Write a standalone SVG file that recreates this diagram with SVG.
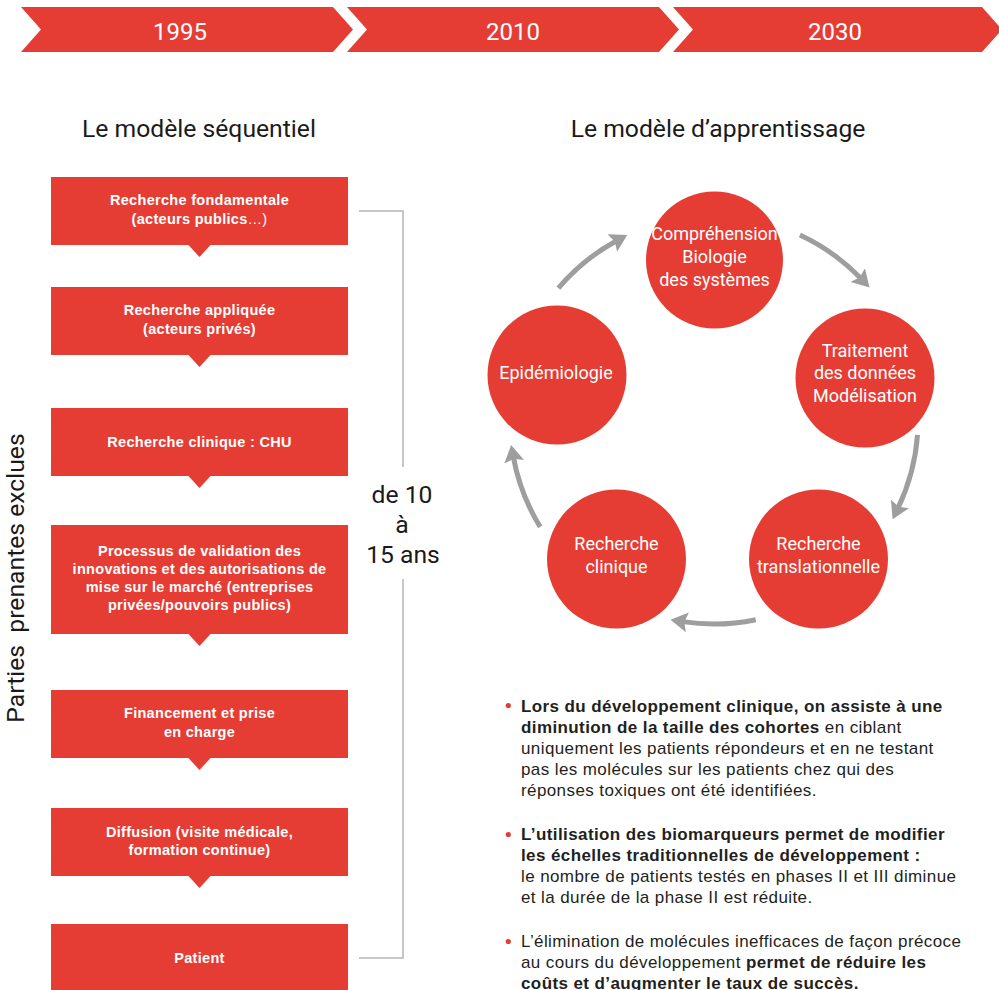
<svg xmlns="http://www.w3.org/2000/svg" width="999" height="990" viewBox="0 0 999 990">
<defs>
<style>
.red{fill:#e53d34}
.yr{font-family:Roboto,"Liberation Sans",sans-serif;font-size:24px;fill:#fff;text-anchor:middle}
.hd{font-family:Roboto,"Liberation Sans",sans-serif;font-size:24.7px;fill:#1a1a1a;text-anchor:middle}
.bx{font-family:"Liberation Sans",Arial,sans-serif;font-size:14.5px;letter-spacing:0.3px;font-weight:bold;fill:#fff;text-anchor:middle}
.ct{font-family:Roboto,"Liberation Sans",sans-serif;font-size:18px;fill:#fff;text-anchor:middle}
.bt{font-family:"Liberation Sans",Arial,sans-serif;font-size:17px;letter-spacing:0.4px;fill:#231f20}
.b{font-weight:bold}
.arc{fill:none;stroke:#9e9e9e;stroke-width:5;marker-end:url(#ah)}
.brk{fill:none;stroke:#b5b5b5;stroke-width:1.5}
</style>
<marker id="ah" markerUnits="userSpaceOnUse" markerWidth="20" markerHeight="22" viewBox="0 0 20 22" refX="5" refY="11" orient="auto">
<path d="M0,1 L17,11 L0,21 L3,11 z" fill="#9e9e9e"/>
</marker>
</defs>
<rect width="999" height="990" fill="#fff"/>

<g id="timeline">
<polygon class="red" points="21,7 333,7 353,29.5 333,52 21,52 41,29.5"/>
<polygon class="red" points="347,7 659,7 679,29.5 659,52 347,52 367,29.5"/>
<polygon class="red" points="673,7 982,7 1002,29.5 982,52 673,52 693,29.5"/>
<text class="yr" x="180" y="40">1995</text>
<text class="yr" x="513" y="40">2010</text>
<text class="yr" x="835" y="40">2030</text>
</g>

<text class="hd" x="199" y="137">Le modèle séquentiel</text>
<text class="hd" x="718" y="137">Le modèle d’apprentissage</text>

<text class="hd" transform="translate(24,578) rotate(-90)" x="0" y="0" font-size="26" xml:space="preserve">Parties  prenantes exclues</text>

<g id="box1">
<rect class="red" x="51" y="177" width="297" height="68"/>
<polygon class="red" points="187.5,244 211.5,244 199.5,257"/>
<text class="bx" x="199.5" y="205">Recherche fondamentale</text>
<text class="bx" x="199.5" y="224">(acteurs publics<tspan font-weight="normal">…)</tspan></text>
</g>
<g id="box2">
<rect class="red" x="51" y="287" width="297" height="68"/>
<polygon class="red" points="187.5,354 211.5,354 199.5,367"/>
<text class="bx" x="199.5" y="315">Recherche appliquée</text>
<text class="bx" x="199.5" y="334">(acteurs privés)</text>
</g>
<g id="box3">
<rect class="red" x="51" y="408" width="297" height="68"/>
<polygon class="red" points="187.5,475 211.5,475 199.5,488"/>
<text class="bx" x="199.5" y="447">Recherche clinique : CHU</text>
</g>
<g id="box4">
<rect class="red" x="51" y="525" width="297" height="109"/>
<polygon class="red" points="187.5,633 211.5,633 199.5,646"/>
<text class="bx" x="199.5" y="556">Processus de validation des</text>
<text class="bx" x="199.5" y="574">innovations et des autorisations de</text>
<text class="bx" x="199.5" y="592">mise sur le marché (entreprises</text>
<text class="bx" x="199.5" y="610">privées/pouvoirs publics)</text>
</g>
<g id="box5">
<rect class="red" x="51" y="690" width="297" height="68"/>
<polygon class="red" points="187.5,757 211.5,757 199.5,770"/>
<text class="bx" x="199.5" y="718">Financement et prise</text>
<text class="bx" x="199.5" y="737">en charge</text>
</g>
<g id="box6">
<rect class="red" x="51" y="808" width="297" height="68"/>
<polygon class="red" points="187.5,875 211.5,875 199.5,888"/>
<text class="bx" x="199.5" y="837">Diffusion (visite médicale,</text>
<text class="bx" x="199.5" y="855">formation continue)</text>
</g>
<g id="box7">
<rect class="red" x="51" y="924" width="297" height="66"/>
<text class="bx" x="199.5" y="963">Patient</text>
</g>

<g id="bracket">
<polyline class="brk" points="359,211 403,211 403,467"/>
<polyline class="brk" points="403,579 403,958 359,958"/>
<text class="hd" x="402" y="503" font-size="22">de 10</text>
<text class="hd" x="402" y="533" font-size="22">à</text>
<text class="hd" x="403" y="563" font-size="22">15 ans</text>
</g>

<g id="connectors">
<path class="arc" d="M558.4,288.1 A204,204 0 0 1 616.7,240.7"/>
<path class="arc" d="M799.9,235 A204,204 0 0 1 861.2,278.8"/>
<path class="arc" d="M917.5,434.9 A204,204 0 0 1 897.8,508.5"/>
<path class="arc" d="M755.7,619.7 A204,204 0 0 1 682.4,621.6"/>
<path class="arc" d="M540.2,526.9 A204,204 0 0 1 513.3,456.8"/>
</g>

<g id="comprehension">
<circle class="red" cx="714.5" cy="260" r="68.5"/>
<text class="ct" x="714.5" y="240">Compréhension</text>
<text class="ct" x="714.5" y="263">Biologie</text>
<text class="ct" x="714.5" y="286">des systèmes</text>
</g>
<g id="traitement">
<circle class="red" cx="865" cy="378" r="69.5"/>
<text class="ct" x="865" y="357">Traitement</text>
<text class="ct" x="865" y="379">des données</text>
<text class="ct" x="865" y="402">Modélisation</text>
</g>
<g id="translationnelle">
<circle class="red" cx="818.5" cy="559" r="69.5"/>
<text class="ct" x="818.5" y="550">Recherche</text>
<text class="ct" x="818.5" y="573">translationnelle</text>
</g>
<g id="clinique">
<circle class="red" cx="616.5" cy="559" r="69.5"/>
<text class="ct" x="616.5" y="550">Recherche</text>
<text class="ct" x="616.5" y="573">clinique</text>
</g>
<g id="epidemiologie">
<circle class="red" cx="557" cy="375" r="69.5"/>
<text class="ct" x="556" y="379">Epidémiologie</text>
</g>

<g id="bullets">
<circle class="red" cx="508.3" cy="705.5" r="2.6"/>
<text class="bt" x="521" y="712"><tspan class="b">Lors du développement clinique, on assiste à une</tspan></text>
<text class="bt" x="521" y="733"><tspan class="b">diminution de la taille des cohortes</tspan> en ciblant</text>
<text class="bt" x="521" y="754">uniquement les patients répondeurs et en ne testant</text>
<text class="bt" x="521" y="775">pas les molécules sur les patients chez qui des</text>
<text class="bt" x="521" y="796">réponses toxiques ont été identifiées.</text>

<circle class="red" cx="508.3" cy="834.5" r="2.6"/>
<text class="bt" x="521" y="840"><tspan class="b">L’utilisation des biomarqueurs permet de modifier</tspan></text>
<text class="bt" x="521" y="861"><tspan class="b">les échelles traditionnelles de développement :</tspan></text>
<text class="bt" x="521" y="882">le nombre de patients testés en phases II et III diminue</text>
<text class="bt" x="521" y="903">et la durée de la phase II est réduite.</text>

<circle class="red" cx="508.3" cy="941.5" r="2.6"/>
<text class="bt" x="521" y="947">L’élimination de molécules inefficaces de façon précoce</text>
<text class="bt" x="521" y="968">au cours du développement <tspan class="b">permet de réduire les</tspan></text>
<text class="bt" x="521" y="989"><tspan class="b">coûts et d’augmenter le taux de succès.</tspan></text>
</g>
</svg>
